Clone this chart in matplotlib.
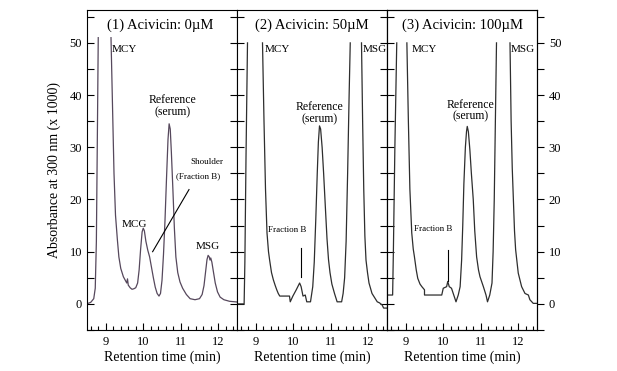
import numpy as np
import matplotlib
matplotlib.use("Agg")
import matplotlib.pyplot as plt
from matplotlib.ticker import MultipleLocator

plt.rcParams["font.family"] = ["Liberation Serif", "DejaVu Serif"]

# chromatogram traces (nan = trace clipped at the top)
t1 = [8.49, 8.60, 8.68, 8.72, 8.75, 8.78, 8.80, np.nan,
      9.14, 9.18, 9.22, 9.26, 9.31, 9.35, 9.40, 9.47, 9.56, 9.58, 9.60, 9.65, 9.70, 9.75,
      9.80, 9.85, 9.89, 9.93, 9.97, 10.00, 10.03, 10.07, 10.12, 10.17, 10.22, 10.27, 10.32,
      10.37, 10.42, 10.46, 10.50, 10.54, 10.58, 10.62, 10.66, 10.69, 10.72, 10.75, 10.79,
      10.83, 10.87, 10.92, 10.98, 11.05, 11.15, 11.25, 11.38, 11.50, 11.57, 11.62, 11.66,
      11.70, 11.73, 11.76, 11.78, 11.80, 11.83, 11.87, 11.92, 11.98, 12.05, 12.15, 12.30, 12.60]
a1 = [0.0, 0.3, 1.0, 3.0, 12.0, 35.0, 51.0, np.nan,
      51.0, 38.0, 25.0, 17.0, 12.3, 9.0, 6.8, 5.2, 4.0, 4.8, 3.6, 3.1, 2.8, 2.9,
      3.1, 4.0, 6.5, 10.5, 13.8, 14.5, 14.0, 12.0, 10.3, 9.0, 7.0, 5.0, 3.2,
      2.0, 1.5, 2.0, 4.5, 9.5, 16.0, 24.0, 31.5, 34.5, 33.5, 29.0, 22.0,
      14.5, 9.0, 6.0, 4.2, 3.0, 1.8, 1.0, 0.8, 1.0, 1.8, 3.5, 6.0,
      8.5, 9.3, 9.0, 8.4, 8.8, 8.0, 6.2, 4.0, 2.3, 1.3, 0.8, 0.5, 0.3]

t2 = [8.50, 8.69, 8.71, 8.74, 8.78, np.nan,
      9.18, 9.22, 9.26, 9.30, 9.34, 9.37, 9.42, 9.47, 9.52, 9.56, 9.60, 9.64, 9.90, 9.92,
      9.99, 10.08, 10.17, 10.21, 10.26, 10.32, 10.36, 10.46, 10.52, 10.56, 10.60, 10.64,
      10.67, 10.70, 10.73, 10.77, 10.81, 10.86, 10.90, 10.94, 10.98, 11.03, 11.10, 11.17,
      11.29, 11.33, 11.37, 11.41, 11.45, 11.49, 11.52, np.nan,
      11.82, 11.85, 11.88, 11.91, 11.94, 11.98, 12.02, 12.10, 12.17, 12.24, 12.30, 12.37,
      12.41, 12.50]
a2 = [0.0, 0.0, 8.0, 28.0, 50.0, np.nan,
      50.0, 35.0, 22.0, 13.6, 10.0, 8.4, 6.0, 4.6, 3.5, 2.7, 2.0, 1.5, 1.5, 0.4,
      1.5, 2.7, 4.0, 3.3, 1.5, 1.7, 0.4, 0.4, 3.3, 8.0, 16.0, 25.0,
      31.0, 34.1, 33.5, 30.0, 25.0, 18.0, 12.5, 8.5, 6.0, 3.8, 2.0, 0.4,
      0.4, 2.0, 5.0, 12.0, 25.0, 40.0, 50.0, np.nan,
      50.0, 35.0, 22.0, 13.0, 8.4, 6.0, 4.0, 2.0, 1.2, 0.4, 0.2, -0.2,
      -0.8, -0.8]

t3 = [8.50, 8.65, 8.67, 8.71, 8.76, np.nan,
      9.03, 9.07, 9.11, 9.16, 9.20, 9.23, 9.28, 9.32, 9.38, 9.43, 9.50, 9.50, 9.96, 10.00,
      10.09, 10.12, 10.16, 10.22, 10.28, 10.34, 10.40, 10.45, 10.49, 10.52, 10.55, 10.59,
      10.62, 10.64, 10.67, 10.71, 10.75, 10.80, 10.84, 10.89, 10.94, 10.98, 11.07, 11.14,
      11.18, 11.24, 11.30, 11.33, 11.36, 11.39, 11.42, np.nan,
      11.78, 11.81, 11.84, 11.87, 11.90, 11.93, 12.00, 12.09, 12.18, 12.27, 12.31, 12.40, 12.50]
a3 = [1.7, 1.7, 10.0, 30.0, 50.0, np.nan,
      50.0, 35.0, 22.0, 13.6, 10.5, 9.1, 6.5, 4.9, 3.8, 3.3, 2.7, 1.7, 1.7, 3.0,
      3.3, 4.3, 3.3, 3.0, 1.7, 0.4, 1.7, 3.3, 8.4, 15.0, 23.0, 30.0,
      33.0, 34.0, 33.0, 29.5, 25.0, 20.0, 14.0, 9.0, 6.5, 5.2, 3.3, 1.7,
      0.4, 1.7, 4.0, 10.0, 20.0, 35.0, 50.0, np.nan,
      50.0, 35.0, 26.0, 20.0, 14.0, 10.4, 5.9, 3.3, 2.0, 1.7, 0.8, 0.1, 0.1]

titles = ["(1) Acivicin: 0\u00b5M", "(2) Acivicin: 50\u00b5M", "(3) Acivicin: 100\u00b5M"]
line_colors = ["#56485c", "#2e2e2e", "#2e2e2e"]

fig = plt.figure(figsize=(6.17, 3.71), dpi=100)
W, H = 617.0, 371.0
lefts = [87, 237, 387]
axes = []
for i, (t, a) in enumerate(zip([t1, t2, t3], [a1, a2, a3])):
    ax = fig.add_axes([lefts[i] / W, (H - 330) / H, 150 / W, 320 / H])
    ax.plot(t, a, color=line_colors[i], lw=0.9)
    ax.set_xlim(8.5, 12.5)
    ax.set_ylim(-5, 56.3)
    ax.xaxis.set_major_locator(MultipleLocator(1))
    ax.xaxis.set_minor_locator(MultipleLocator(0.2))
    ax.yaxis.set_major_locator(MultipleLocator(10))
    ax.yaxis.set_minor_locator(MultipleLocator(5))
    ax.tick_params(axis="x", which="both", direction="in", top=False, labelsize=9, pad=4)
    ax.tick_params(axis="x", which="major", length=5, width=0.8)
    ax.tick_params(axis="x", which="minor", length=3, width=0.8)
    ax.tick_params(axis="y", which="both", direction="in", left=True, right=True,
                   length=5, width=0.8, labelleft=False, labelright=False, labelsize=9)
    for s in ax.spines.values():
        s.set_linewidth(0.8)
    ax.set_xlabel("Retention time (min)", fontsize=10, labelpad=2)
    ax.text(10.5 if i else 10.45, 53.4, titles[i], ha="center", va="center", fontsize=10.5)
    axes.append(ax)

ax1, ax2, ax3 = axes
ax1.tick_params(axis="y", labelleft=True)
ax1.set_ylabel("Absorbance at 300 nm (x 1000)", fontsize=10, labelpad=6)
ax3.tick_params(axis="y", which="both", right=False)
ax3r = ax3.twinx()
ax3r.set_ylim(ax3.get_ylim())
ax3r.yaxis.set_major_locator(MultipleLocator(10))
ax3r.yaxis.set_minor_locator(MultipleLocator(5))
ax3r.tick_params(axis="y", which="both", direction="out", length=5, width=0.8, labelsize=9)
ax3r.set_yticks([0, 10, 20, 30, 40, 50])
for s in ax3r.spines.values():
    s.set_linewidth(0.8)

small = 8
# panel 1 annotations
ax1.text(9.17, 48.7, "MCY", fontsize=small, va="center")
ax1.text(9.75, 15.2, "MCG", fontsize=small, ha="center", va="center")
ax1.text(10.79, 37.9, "Reference\n(serum)", fontsize=8.5, ha="center", va="center", linespacing=1.0)
ax1.text(11.7, 27.1, "Shoulder", fontsize=6.5, ha="center", va="center")
ax1.text(11.47, 24.4, "(Fraction B)", fontsize=6.5, ha="center", va="center")
ax1.plot([10.25, 11.22], [10.0, 21.9], color="black", lw=0.8)
ax1.text(11.73, 10.9, "MSG", fontsize=small, ha="center", va="center")

# panel 2 annotations
ax2.text(9.25, 48.7, "MCY", fontsize=small, va="center")
ax2.text(11.84, 48.7, "MSG", fontsize=small, va="center")
ax2.text(10.71, 36.6, "Reference\n(serum)", fontsize=8.5, ha="center", va="center", linespacing=1.0)
ax2.text(9.83, 14.2, "Fraction B", fontsize=6.5, ha="center", va="center")
ax2.plot([10.21, 10.21], [5.2, 10.7], color="black", lw=0.8)

# panel 3 annotations
ax3.text(9.15, 48.7, "MCY", fontsize=small, va="center")
ax3.text(11.79, 48.7, "MSG", fontsize=small, va="center")
ax3.text(10.72, 37.0, "Reference\n(serum)", fontsize=8.5, ha="center", va="center", linespacing=1.0)
ax3.text(9.74, 14.4, "Fraction B", fontsize=6.5, ha="center", va="center")
ax3.plot([10.12, 10.12], [4.3, 10.4], color="black", lw=0.8)

fig.savefig("out.png", dpi=100)
